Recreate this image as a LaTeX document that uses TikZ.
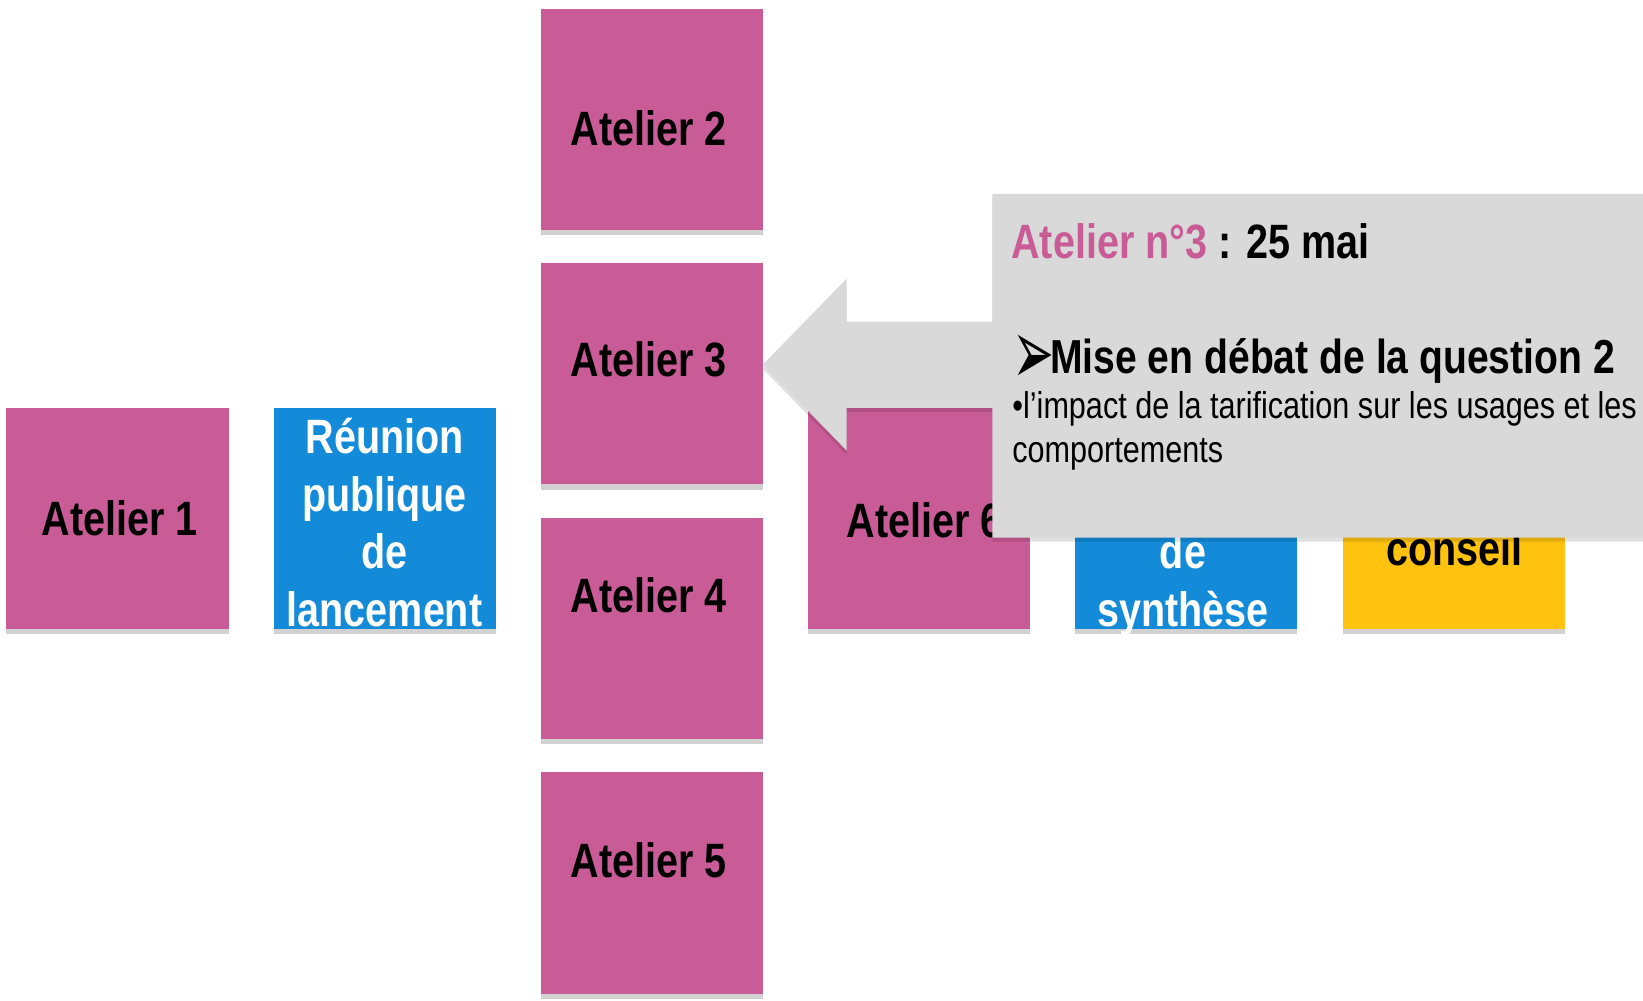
\documentclass[tikz,border=0pt]{standalone}
\usepackage{fontspec}
\setmainfont{Liberation Sans}[FakeStretch=0.82]
\newfontfamily\dingfont{DejaVu Sans}
\usetikzlibrary{shadows}
\definecolor{pinkbox}{HTML}{C95C96}
\definecolor{bluebox}{HTML}{138BD9}
\definecolor{yellowbox}{HTML}{FFC20E}
\definecolor{callgray}{HTML}{D9D9D9}
\begin{document}
\begin{tikzpicture}[x=1pt,y=-1pt,
  tile/.style={draw=none, minimum width=212pt, minimum height=211pt, inner sep=0pt, anchor=north west,
    drop shadow={shadow xshift=0pt, shadow yshift=-5pt, fill=black, opacity=0.18}},
  pinktile/.style={tile, fill=pinkbox},
  bluetile/.style={tile, fill=bluebox},
  yellowtile/.style={tile, fill=yellowbox},
  lab/.style={font=\bfseries\fontsize{46}{55}\selectfont, anchor=base, inner sep=0pt, align=center},
  whitelab/.style={lab, text=white},
  calltext/.style={anchor=base west, inner sep=0pt, align=left}
]
\useasboundingbox (0,0) rectangle (1568,955.3);
% tiles
\node[pinktile] (a1) at (6,389) {};
\node[bluetile] (r1) at (261,389) {};
\node[pinktile] (a2) at (516,8) {};
\node[pinktile] (a3) at (516,251) {};
\node[pinktile] (a4) at (516,494) {};
\node[pinktile] (a5) at (516,737) {};
\node[pinktile] (a6) at (771,389) {};
\node[bluetile] (r2) at (1026,389) {};
\node[yellowtile] (c1) at (1281,389) {};
% labels (multi-line nodes: base = last line)
\node[lab] (a1t) at (114,511) {Atelier 1};
\node[whitelab] (r1t) at (367,598) {Réunion\\publique\\de\\lancement};
\node[lab] (a2t) at (619,139) {Atelier 2};
\node[lab] (a3t) at (619,359) {Atelier 3};
\node[lab] (a4t) at (619,585) {Atelier 4};
\node[lab] (a5t) at (619,837) {Atelier 5};
\node[lab, anchor=base west] (a6t) at (808,513) {Atelier 6};
\node[whitelab] (r2t) at (1129,598) {de\\synthèse};
\node[lab] (c1t) at (1388,540) {conseil};
% callout with arrow
\path[fill=callgray, drop shadow={shadow xshift=0pt, shadow yshift=-4pt, fill=black, opacity=0.12}]
  (728,348) -- (808,266) -- (808,307) -- (947,307) -- (947,185) -- (1568,185)
  -- (1568,513) -- (947,513) -- (947,389) -- (808,389) -- (808,430) -- cycle;
% callout text
\node[calltext, font=\bfseries\fontsize{46}{55}\selectfont] (ctitle) at (965,247)
  {\textcolor{pinkbox}{Atelier n°3} : 25 mai};
\node[calltext, font=\dingfont\fontsize{52}{52}\selectfont] (carrow) at (966,367)
  {\scalebox{0.92}[1.7]{➢}};
\node[calltext, font=\bfseries\fontsize{45.5}{55}\selectfont] (cq) at (1002,356)
  {Mise en débat de la question 2};
\node[calltext, font=\fontsize{35.6}{42}\selectfont] (cb) at (966,441)
  {•l’impact de la tarification sur les usages et les\\comportements};
\end{tikzpicture}
\end{document}
